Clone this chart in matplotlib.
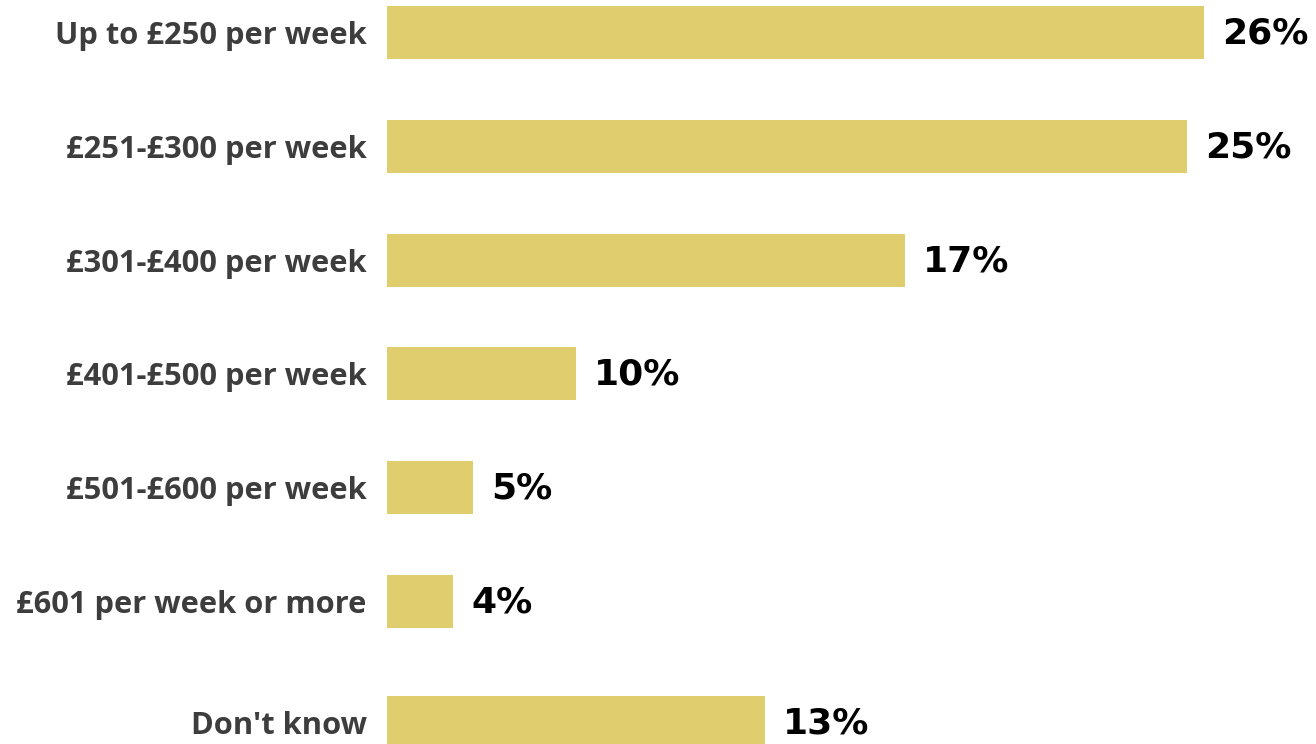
from matplotlib import pyplot as plt

categories = ["Up to £250 per week", "£251-£300 per week", "£301-£400 per week",
              "£401-£500 per week", "£501-£600 per week", "£601 per week or more",
              "Don't know"]
# bar lengths as drawn in the picture (labels below are the printed figures)
bar_values = [26.0, 25.46, 16.49, 6.02, 2.74, 2.10, 12.03]
value_labels = ["26%", "25%", "17%", "10%", "5%", "4%", "13%"]

fig = plt.figure(figsize=(13.16, 7.44), dpi=100)
ax = fig.add_axes([387 / 1316, 0, 929 / 1316, 1])

pitch = 113.8
ypos = [0, 1, 2, 3, 4, 5, 6.06]  # "Don't know" sits a little lower
ax.barh(ypos, bar_values, height=53 / pitch, color="#e0cd6d")

# scale so 26 units = 817 px
ax.set_xlim(0, 929 / 31.42)
ax.set_ylim((744 - 32.5) / pitch, -32.5 / pitch)

ax.set_yticks(ypos)
ax.set_yticklabels(categories, fontfamily="Open Sans", fontweight="bold",
                   fontsize=22.2, color="#3d3d3d")
ax.tick_params(axis="y", length=0, pad=14.5)
ax.set_xticks([])
for s in ax.spines.values():
    s.set_visible(False)

for y, v, lab in zip(ypos, bar_values, value_labels):
    ax.annotate(lab, (v, y), xytext=(18, -1), textcoords="offset pixels",
                va="center", ha="left", fontfamily="DejaVu Sans",
                fontweight="bold", fontsize=26, color="black")

plt.savefig("out.png", dpi=100)
